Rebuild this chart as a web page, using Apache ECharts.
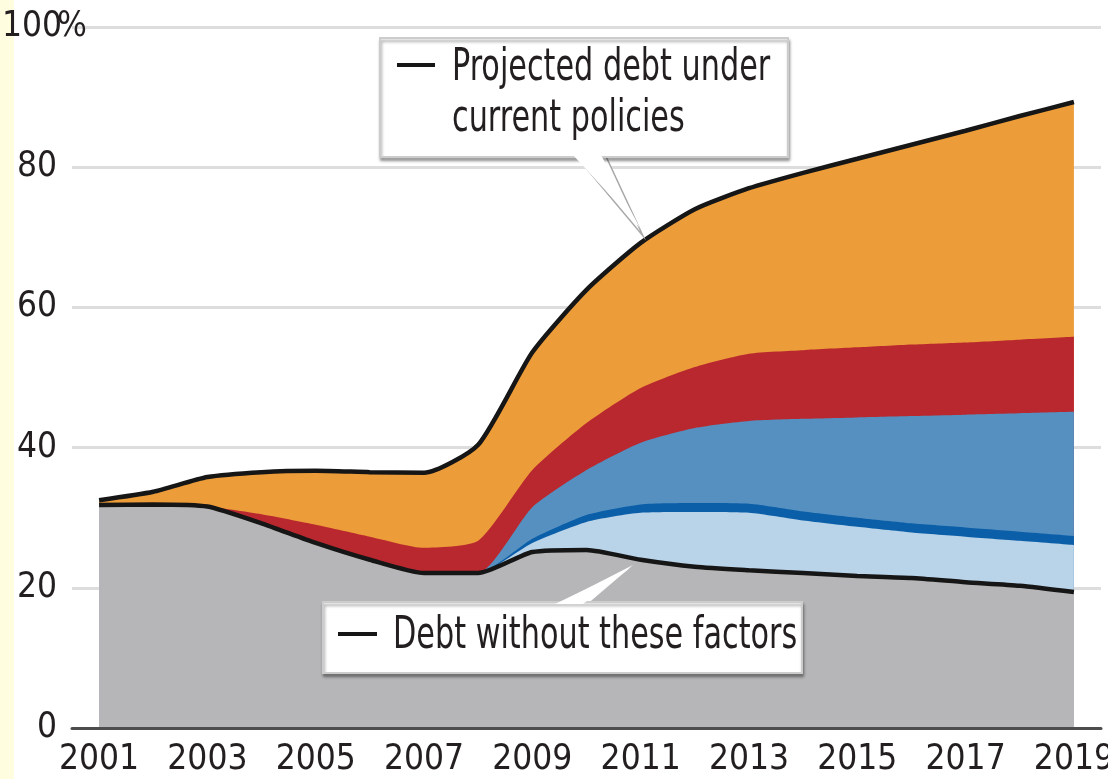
<!DOCTYPE html>
<html><head><meta charset="utf-8">
<script src="https://cdn.jsdelivr.net/npm/echarts@6/dist/echarts.min.js"></script>
<style>html,body{margin:0;padding:0;background:#fff;overflow:hidden}#c{width:1108px;height:779px}</style>
</head><body><div id="c"></div>
<script>
// Categories
const years = ['2001','2002','2003','2004','2005','2006','2007','2008','2009','2010',
               '2011','2012','2013','2014','2015','2016','2017','2018','2019'];
// Cumulative levels (% of GDP), bottom to top
const debtWithoutFactors = [31.8, 31.9, 31.6, 29.2, 26.4, 24.0, 22.1, 22.1, 25.1, 25.4, 24.0, 23.0, 22.5, 22.1, 21.7, 21.4, 20.8, 20.3, 19.4];
const lightBlueTop       = [31.8, 31.9, 31.6, 29.2, 26.4, 24.0, 22.1, 22.1, 26.4, 29.4, 30.7, 30.8, 30.7, 29.6, 28.7, 27.9, 27.3, 26.7, 26.1];
const darkBlueTop        = [31.8, 31.9, 31.6, 29.2, 26.4, 24.0, 22.1, 22.1, 27.0, 30.4, 31.9, 32.1, 32.0, 30.9, 30.0, 29.2, 28.6, 28.0, 27.4];
const mediumBlueTop      = [31.8, 31.9, 31.6, 29.2, 26.4, 24.0, 22.1, 22.1, 31.5, 36.8, 40.7, 42.8, 43.8, 44.1, 44.3, 44.5, 44.7, 44.9, 45.1];
const redTop             = [31.8, 31.9, 31.6, 30.5, 29.0, 27.3, 25.7, 26.7, 36.8, 43.5, 48.5, 51.5, 53.4, 53.9, 54.3, 54.7, 55.0, 55.4, 55.8];
const projectedDebt      = [32.5, 33.7, 35.8, 36.5, 36.7, 36.5, 36.4, 40.4, 53.6, 62.5, 69.2, 74.0, 77.0, 79.2, 81.2, 83.2, 85.2, 87.3, 89.3];
// Y ticks
const yTicks = [0, 20, 40, 60, 80, 100];

const FONT = "'Liberation Sans Narrow', 'DejaVu Sans Condensed', 'Arial Narrow', sans-serif";
const TXT = '#231f20';
const SM = 0.2;

function area(name, data, color) {
  return {
    name, type: 'line', data, smooth: SM, symbol: 'none', silent: true,
    lineStyle: { width: 0 }, areaStyle: { color, opacity: 1 },
    emphasis: { disabled: true }
  };
}
function blackLine(name, data) {
  return {
    name, type: 'line', data, smooth: SM, symbol: 'none', silent: true,
    lineStyle: { width: 4.5, color: '#161616' }, emphasis: { disabled: true }
  };
}

const chart = echarts.init(document.getElementById('c'), null, { renderer: 'canvas' });
chart.setOption({
  animation: false,
  backgroundColor: '#ffffff',
  grid: { left: 72, right: 7, top: 27, bottom: 51, containLabel: false, outerBoundsMode: 'none' },
  xAxis: {
    type: 'category', data: years, boundaryGap: true, z: 10,
    axisLine: { lineStyle: { color: '#4d4d4d', width: 3 } },
    axisTick: { alignWithLabel: true, interval: 0, inside: true, length: 16, lineStyle: { color: '#555', width: 2.5 } },
    axisLabel: { interval: 1, margin: 14, fontFamily: FONT, fontSize: 35, color: TXT, hideOverlap: false }
  },
  yAxis: {
    type: 'value', min: yTicks[0], max: yTicks[yTicks.length - 1], interval: 20,
    axisLine: { show: false }, axisTick: { show: false },
    splitLine: { lineStyle: { color: '#dddddd', width: 3 } },
    axisLabel: {
      margin: -15, fontFamily: FONT, fontSize: 35, color: TXT,
      formatter: v => v === 100 ? '{n|100}{p|%}' : '{n|' + v + '}{s| }',
      rich: {
        n: { fontFamily: FONT, fontSize: 35, color: TXT, width: 50, align: 'right' },
        p: { fontFamily: FONT, fontSize: 35, color: TXT, width: 30, align: 'left' },
        s: { fontFamily: FONT, fontSize: 35, width: 30 }
      }
    }
  },
  series: [
    area('Projected debt (top layer)', projectedDebt, '#ec9c39'),
    area('Layer 4', redTop, '#b9282f'),
    area('Layer 3', mediumBlueTop, '#5590c0'),
    area('Layer 2', darkBlueTop, '#0b5ea8'),
    area('Layer 1', lightBlueTop, '#b9d3e8'),
    area('Debt without these factors (area)', debtWithoutFactors, '#b6b6b8'),
    blackLine('Projected debt under current policies', projectedDebt),
    blackLine('Debt without these factors', debtWithoutFactors)
  ],
  graphic: [
    { type: 'rect', z: 0, silent: true, shape: { x: 0, y: 0, width: 14, height: 779 }, style: { fill: '#fffde0' } },
    // top callout
    { type: 'polygon', z: 100, silent: true, shape: { points: [[571, 150], [603, 150], [643, 236]] },
      style: { fill: '#ffffff', stroke: '#a8a8a8', lineWidth: 1.5 } },
    { type: 'rect', z: 101, silent: true, shape: { x: 380, y: 38, width: 408, height: 119 },
      style: { fill: '#ffffff', stroke: '#cccccc', lineWidth: 2, shadowBlur: 3, shadowOffsetX: 1, shadowOffsetY: 3, shadowColor: 'rgba(0,0,0,0.35)' } },
    { type: 'polygon', z: 102, silent: true, shape: { points: [[573, 155], [601, 155], [640, 228]] },
      style: { fill: '#ffffff' } },
    { type: 'line', z: 103, silent: true, shape: { x1: 397, y1: 65, x2: 435, y2: 65 }, style: { stroke: '#161616', lineWidth: 4 } },
    { type: 'text', z: 103, silent: true, x: 452, y: 69, scaleX: 0.765,
      style: { text: 'Projected debt under', font: '44px ' + FONT, fill: TXT, verticalAlign: 'middle', align: 'left' } },
    { type: 'text', z: 103, silent: true, x: 452, y: 120, scaleX: 0.765,
      style: { text: 'current policies', font: '44px ' + FONT, fill: TXT, verticalAlign: 'middle', align: 'left' } },
    // bottom callout
    { type: 'polygon', z: 100, silent: true, shape: { points: [[553, 606], [585, 606], [633, 565]] },
      style: { fill: '#ffffff' } },
    { type: 'rect', z: 101, silent: true, shape: { x: 323, y: 602, width: 479, height: 71 },
      style: { fill: '#ffffff', stroke: '#cccccc', lineWidth: 2, shadowBlur: 3, shadowOffsetX: 1, shadowOffsetY: 3, shadowColor: 'rgba(0,0,0,0.35)' } },
    { type: 'polygon', z: 102, silent: true, shape: { points: [[555, 604], [583, 604], [630, 568]] },
      style: { fill: '#ffffff' } },
    { type: 'line', z: 103, silent: true, shape: { x1: 338, y1: 634, x2: 377, y2: 634 }, style: { stroke: '#161616', lineWidth: 4 } },
    { type: 'text', z: 103, silent: true, x: 393, y: 637, scaleX: 0.765,
      style: { text: 'Debt without these factors', font: '44px ' + FONT, fill: TXT, verticalAlign: 'middle', align: 'left' } }
  ]
});
</script></body></html>
